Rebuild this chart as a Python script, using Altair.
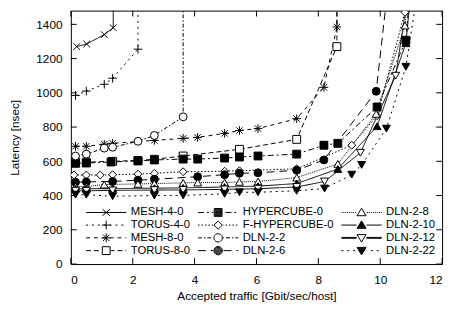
import math
import altair as alt
import pandas as pd

SERIES = ["MESH-4-0", "TORUS-4-0", "MESH-8-0", "TORUS-8-0",
          "HYPERCUBE-0", "F-HYPERCUBE-0", "DLN-2-2", "DLN-2-6",
          "DLN-2-8", "DLN-2-10", "DLN-2-12", "DLN-2-22"]

MESH_4_0_X = [0.19, 0.51, 1.08, 1.37, 1.37]
MESH_4_0_Y = [1270, 1285, 1340, 1380, 1700]
TORUS_4_0_X = [0.15, 0.5, 1.08, 1.35, 2.17, 2.17]
TORUS_4_0_Y = [985, 1010, 1050, 1085, 1255, 1700]
MESH_8_0_X = [0.15, 0.5, 1.08, 1.35, 2.7, 3.63, 4.1, 4.97, 5.45, 6.05, 7.3, 8.18, 8.6, 8.6]
MESH_8_0_Y = [688, 688, 700, 705, 722, 734, 740, 763, 780, 791, 849, 1032, 1385, 1700]
TORUS_8_0_X = [0.15, 0.5, 1.35, 2.17, 2.7, 3.63, 5.45, 7.3, 8.6, 8.6]
TORUS_8_0_Y = [595, 595, 600, 605, 612, 631, 670, 728, 1270, 1700]
HYPERCUBE_0_X = [0.15, 0.5, 1.3, 2.17, 2.7, 3.63, 4.1, 4.97, 5.45, 6.05, 7.3, 8.18, 8.63, 9.9, 10.83, 11.0]
HYPERCUBE_0_Y = [588, 590, 596, 602, 608, 613, 613, 619, 625, 631, 642, 694, 705, 917, 1307, 1700]
F_HYPERCUBE_0_X = [0.1, 0.5, 0.95, 1.35, 2.17, 2.7, 3.63, 4.97, 5.45, 7.3, 9.08, 9.9, 10.8, 10.9]
F_HYPERCUBE_0_Y = [520, 520, 520, 522, 525, 530, 539, 542, 545, 556, 694, 866, 1470, 1700]
DLN_2_2_X = [0.15, 0.5, 1.08, 1.35, 2.17, 2.7, 3.63, 3.63]
DLN_2_2_Y = [631, 642, 677, 682, 717, 751, 860, 1700]
DLN_2_6_X = [0.15, 0.5, 1.35, 2.17, 2.7, 4.1, 4.97, 5.45, 6.05, 7.3, 8.18, 9.87, 10.3]
DLN_2_6_Y = [478, 480, 482, 490, 495, 510, 522, 530, 533, 548, 608, 1009, 1700]
DLN_2_8_X = [0.15, 0.5, 1.08, 2.17, 2.7, 3.63, 4.1, 4.97, 5.45, 6.05, 7.3, 8.63, 9.87, 10.8, 10.95]
DLN_2_8_Y = [453, 453, 464, 468, 470, 474, 476, 476, 480, 482, 505, 585, 877, 1393, 1700]
DLN_2_10_X = [0.15, 0.5, 1.35, 2.7, 3.63, 4.97, 6.05, 7.3, 8.63, 9.9, 10.83, 11.05]
DLN_2_10_Y = [440, 440, 440, 443, 445, 450, 455, 470, 555, 805, 1290, 1700]
DLN_2_12_X = [0.15, 0.5, 1.35, 2.7, 3.63, 4.97, 6.05, 7.3, 8.2, 9.36, 10.5, 11.0]
DLN_2_12_Y = [428, 428, 430, 432, 433, 436, 440, 450, 482, 650, 1100, 1700]
DLN_2_22_X = [0.15, 0.5, 1.35, 2.7, 3.63, 4.97, 5.45, 6.05, 7.3, 8.2, 9.08, 9.4, 10.2, 10.83, 11.3]
DLN_2_22_Y = [405, 405, 396, 400, 401, 410, 419, 419, 428, 441, 522, 579, 791, 1152, 1700]

X_TICKS = [0, 2, 4, 6, 8, 10, 12]
Y_TICKS = [0, 200, 400, 600, 800, 1000, 1200, 1400]

SERIES_XY = [
    (MESH_4_0_X, MESH_4_0_Y), (TORUS_4_0_X, TORUS_4_0_Y),
    (MESH_8_0_X, MESH_8_0_Y), (TORUS_8_0_X, TORUS_8_0_Y),
    (HYPERCUBE_0_X, HYPERCUBE_0_Y), (F_HYPERCUBE_0_X, F_HYPERCUBE_0_Y),
    (DLN_2_2_X, DLN_2_2_Y), (DLN_2_6_X, DLN_2_6_Y),
    (DLN_2_8_X, DLN_2_8_Y), (DLN_2_10_X, DLN_2_10_Y),
    (DLN_2_12_X, DLN_2_12_Y), (DLN_2_22_X, DLN_2_22_Y),
]

rows = []
for name, (xs, ys) in zip(SERIES, SERIES_XY):
    for i, (xv, yv) in enumerate(zip(xs, ys)):
        rows.append({"series": name, "x": xv, "y": yv, "order": i})
df = pd.DataFrame(rows)

YMAX = 1480
W, H = 378, 258

# ---- styles ----
DASHES = [[1, 0], [2, 4], [4, 4], [5, 3], [6, 3, 2, 3], [1.5, 2],
          [4, 2, 1.5, 2], [8, 5], [1, 1], [1, 0], [1, 0], [2, 4]]
WIDTHS = [1, 1, 1, 1, 1, 1, 1, 1, 1, 1, 1.6, 1]

X_PATH = "M-0.85,-0.85L0.85,0.85M-0.85,0.85L0.85,-0.85"
PLUS_PATH = "M-1.1,0L1.1,0M0,-1.1L0,1.1"
STAR_PATH = PLUS_PATH + "M-0.8,-0.8L0.8,0.8M-0.8,0.8L0.8,-0.8"
SHAPES = [X_PATH, PLUS_PATH, STAR_PATH, "square", "square", "diamond",
          "circle", "circle", "triangle-up", "triangle-up",
          "triangle-down", "triangle-down"]
FILLS = ["transparent", "transparent", "transparent", "white", "black", "white",
         "white", "black", "white", "black", "white", "black"]
KINDS = ["x", "plus", "star", "square", "square", "diamond", "circle", "circle",
         "tri-up", "tri-up", "tri-down", "tri-down"]
SOLID = [False, False, False, False, True, False, False, True, False, True, False, True]

HALF = 20.5  # half width of a legend sample, px


def outline(kind, s):
    if kind == "square":
        return [(-4 * s, -4 * s), (4 * s, -4 * s), (4 * s, 4 * s), (-4 * s, 4 * s)]
    if kind == "diamond":
        return [(0, -4.2 * s), (4.2 * s, 0), (0, 4.2 * s), (-4.2 * s, 0)]
    if kind == "circle":
        return [(4.3 * s * math.cos(2 * math.pi * k / 20), 4.3 * s * math.sin(2 * math.pi * k / 20))
                for k in range(20)]
    if kind == "tri-up":
        return [(0, -4.3 * s), (4.6 * s, 3.3 * s), (-4.6 * s, 3.3 * s)]
    if kind == "tri-down":
        return [(0, 4.3 * s), (4.6 * s, -3.3 * s), (-4.6 * s, -3.3 * s)]


def marker_px(kind, solid):
    if kind == "x":
        return [([(-3.8, -3.3), (3.8, 3.3)], False), ([(-3.8, 3.3), (3.8, -3.3)], False)]
    if kind == "plus":
        return [([(-4.5, 0), (4.5, 0)], False), ([(0, -4.5), (0, 4.5)], False)]
    if kind == "star":
        return (marker_px("plus", False) +
                [([(-3.3, -3.3), (3.3, 3.3)], False), ([(-3.3, 3.3), (3.3, -3.3)], False)])
    scales = [1.0, 0.8, 0.6, 0.4, 0.2, 0.05] if solid else [1.0]
    return [(outline(kind, s), True) for s in scales]


def line_segments(pattern, start, end, gap):
    segs = []
    pos, i = start, 0
    while pos < end - 1e-9:
        length = pattern[i % len(pattern)]
        if i % 2 == 0 and length > 0:
            a, b = pos, min(pos + length, end)
            for lo, hi in ((a, min(b, -gap)), (max(a, gap), b)):
                if hi - lo > 0.05:
                    segs.append((lo, hi))
        pos += length
        i += 1
    return segs


def sample_path(pattern, kind, solid, width, half=HALF):
    gap = 0.0 if kind in ("x", "plus", "star") else 5.0
    if pattern == [1, 0]:
        pattern = [2 * half, 0]
    parts = []
    offs = [0.0] if width <= 1.2 else [-0.45, 0.45]
    for oy in offs:
        for lo, hi in line_segments(pattern, -half, half, gap):
            parts.append("M%.3f,%.3fL%.3f,%.3f" % (lo / half, oy / half, hi / half, oy / half))
    for pts, closed in marker_px(kind, solid):
        s = "M%.3f,%.3f" % (pts[0][0] / half, pts[0][1] / half)
        for px, py in pts[1:]:
            s += "L%.3f,%.3f" % (px / half, py / half)
        if closed:
            s += "Z"
        parts.append(s)
    return "".join(parts)


LEGEND_PATHS = [sample_path(d, k, f, w) for d, k, f, w in zip(DASHES, KINDS, SOLID, WIDTHS)]

FONT = "Liberation Sans"

X_SCALE = alt.Scale(domain=[0, 12], nice=False, zero=False)
Y_SCALE = alt.Scale(domain=[0, YMAX], nice=False)
X_AXIS = alt.Axis(values=X_TICKS, title="Accepted traffic [Gbit/sec/host]",
                  labelPadding=11, titlePadding=5, labelOverlap=False)
Y_AXIS = alt.Axis(values=Y_TICKS, title="Latency [nsec]", format="d",
                  labelPadding=9, titlePadding=15, labelOverlap=False)


def xe():
    return alt.X("x:Q", scale=X_SCALE, axis=X_AXIS)


def ye():
    return alt.Y("y:Q", scale=Y_SCALE, axis=Y_AXIS)


lines = alt.Chart(df).mark_line(color="black", clip=True).encode(
    x=xe(), y=ye(),
    strokeDash=alt.StrokeDash("series:N", scale=alt.Scale(domain=SERIES, range=DASHES), legend=None),
    strokeWidth=alt.StrokeWidth("series:N", scale=alt.Scale(domain=SERIES, range=WIDTHS), legend=None),
    detail="series:N",
    order="order:Q",
)

points = alt.Chart(df).transform_filter(f"datum.y <= {YMAX}").mark_point(
    stroke="black", strokeWidth=1, opacity=1, size=64, clip=True
).encode(
    x=xe(), y=ye(),
    shape=alt.Shape("series:N", scale=alt.Scale(domain=SERIES, range=SHAPES), legend=None),
    fill=alt.Fill("series:N", scale=alt.Scale(domain=SERIES, range=FILLS), legend=None),
)

xt = pd.DataFrame({"x": X_TICKS})
yt = pd.DataFrame({"y": Y_TICKS})
tick_b = alt.Chart(xt).mark_rule(color="black", strokeWidth=1).encode(
    x=xe(), y=alt.value(H), y2=alt.value(H - 6))
tick_t = alt.Chart(xt).mark_rule(color="black", strokeWidth=1).encode(
    x=xe(), y=alt.value(0), y2=alt.value(6))
tick_l = alt.Chart(yt).mark_rule(color="black", strokeWidth=1).encode(
    y=ye(), x=alt.value(0), x2=alt.value(6))
tick_r = alt.Chart(yt).mark_rule(color="black", strokeWidth=1).encode(
    y=ye(), x=alt.value(W - 6), x2=alt.value(W))

legend_layer = alt.Chart(df).transform_filter("false").mark_point(
    stroke="black", strokeWidth=1, opacity=1
).encode(
    shape=alt.Shape("series:N",
                    scale=alt.Scale(domain=SERIES, range=LEGEND_PATHS),
                    legend=alt.Legend(
                        orient="none", legendX=15, legendY=199.5, columns=3, title=None,
                        symbolSize=(2 * HALF) ** 2, symbolStrokeWidth=1, symbolStrokeColor="black",
                        symbolFillColor="transparent", clipHeight=11.7,
                        symbolOpacity=1, labelFont=FONT, labelFontSize=11.5, labelColor="black",
                        labelOffset=4, rowPadding=0, columnPadding=7, labelLimit=200,
                    )),
)

chart = alt.layer(lines, points, tick_b, tick_t, tick_l, tick_r, legend_layer).resolve_scale(
    shape="independent", fill="independent"
).properties(
    width=W, height=H,
    autosize=alt.AutoSizeParams(type="none"),
    padding={"left": 64, "top": 0, "right": 5, "bottom": 38},
).configure_view(
    stroke="black", strokeWidth=1
).configure_axis(
    labelFont=FONT, labelFontSize=12, labelColor="black",
    titleFont=FONT, titleFontSize=12, titleFontWeight="normal", titleColor="black",
    ticks=False, tickSize=0, domain=False, grid=False, labelOverlap=False,
)

chart.save("out.html", embed_options={"renderer": "svg", "actions": False})
